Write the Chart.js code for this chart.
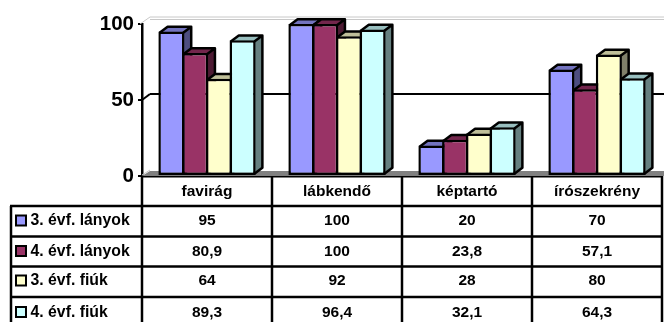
<!DOCTYPE html>
<html>
<head>
<meta charset="utf-8">
<script src="https://cdn.jsdelivr.net/npm/chart.js@4"></script>
<style>
  html, body { margin: 0; padding: 0; background: #fff; overflow: hidden; }
  canvas { display: block; }
</style>
</head>
<body>
<canvas id="chart" width="664" height="322"></canvas>
<script>
// Data
const categories = ['favirág', 'lábkendő', 'képtartó', 'írószekrény'];
const seriesNames = ['3. évf. lányok', '4. évf. lányok', '3. évf. fiúk', '4. évf. fiúk'];
const lanyok3 = [95, 100, 20, 70];
const lanyok4 = [80.9, 100, 23.8, 57.1];
const fiuk3 = [64, 92, 28, 80];
const fiuk4 = [89.3, 96.4, 32.1, 64.3];
const yTicks = [0, 50, 100];

// Front, top and side colours per series
const frontColors = ['#9999FF', '#993366', '#FFFFCC', '#CCFFFF'];
const topColors = ['#7373BF', '#73264C', '#BFBF99', '#99BFBF'];
const sideColors = ['#4D4D80', '#4D1A33', '#80806A', '#668080'];

const FONT = '"Liberation Sans", Arial, sans-serif';
const DEPTH_X = 8;
const DEPTH_Y = 6;
const STROKE = 2.5;

function line(ctx, x1, y1, x2, y2) {
    ctx.beginPath();
    ctx.moveTo(x1, y1);
    ctx.lineTo(x2, y2);
    ctx.stroke();
}

function poly(ctx, pts, fill) {
    ctx.beginPath();
    pts.forEach((p, i) => i ? ctx.lineTo(p[0], p[1]) : ctx.moveTo(p[0], p[1]));
    ctx.closePath();
    ctx.fillStyle = fill;
    ctx.fill();
}

// Back wall, floor and the top/side faces of the bars
const depthPlugin = {
    id: 'depth',
    beforeDatasetsDraw(chart) {
        const { ctx, chartArea, scales } = chart;
        const { left, bottom } = chartArea;
        const yMid = scales.y.getPixelForValue(50);
        const yTop = scales.y.getPixelForValue(100);
        ctx.save();

        // floor band
        poly(ctx, [[left, bottom], [left + DEPTH_X, bottom - 5], [664, bottom - 5], [664, bottom]], '#808080');

        ctx.strokeStyle = '#C8C8C8';
        ctx.lineWidth = 1;
        line(ctx, left - 2, yTop, left + DEPTH_X, yTop - 7);
        line(ctx, left + DEPTH_X, yTop - 7, 664, yTop - 7);
        line(ctx, left + DEPTH_X, yTop - 4.5, 664, yTop - 4.5);
        line(ctx, left, bottom - 1, left + DEPTH_X, bottom - DEPTH_Y);

        ctx.strokeStyle = '#000';
        ctx.lineWidth = 2;
        line(ctx, left, yMid, left + DEPTH_X, yMid - DEPTH_Y);
        line(ctx, left + DEPTH_X, yMid - DEPTH_Y, 664, yMid - DEPTH_Y);

        chart.data.labels.forEach((_, c) => {
            chart.data.datasets.forEach((ds, d) => {
                const bar = chart.getDatasetMeta(d).data[c];
                const inset = STROKE / 2;
                const hw = bar.width / 2 - inset;
                const x0 = bar.x - hw, x1 = bar.x + hw;
                const yt = bar.y + inset, yb = bar.base - inset;
                const top = [[x0, yt], [x0 + DEPTH_X, yt - DEPTH_Y], [x1 + DEPTH_X, yt - DEPTH_Y], [x1, yt]];
                const side = [[x1, yt], [x1 + DEPTH_X, yt - DEPTH_Y], [x1 + DEPTH_X, yb - DEPTH_Y], [x1, yb]];
                poly(ctx, side, sideColors[d]);
                poly(ctx, top, topColors[d]);
                ctx.strokeStyle = '#000';
                ctx.lineWidth = STROKE;
                ctx.lineJoin = 'round';
                ctx.beginPath();
                ctx.moveTo(x0, yt);
                ctx.lineTo(x0 + DEPTH_X, yt - DEPTH_Y);
                ctx.lineTo(x1 + DEPTH_X, yt - DEPTH_Y);
                ctx.lineTo(x1 + DEPTH_X, yb - DEPTH_Y);
                ctx.lineTo(x1, yb);
                ctx.moveTo(x1, yt);
                ctx.lineTo(x1 + DEPTH_X, yt - DEPTH_Y);
                ctx.stroke();
            });
        });
        ctx.restore();
    }
};

// Data table under the x axis, aligned to the category bands
const tablePlugin = {
    id: 'dataTable',
    afterDraw(chart) {
        const { ctx, chartArea, scales } = chart;
        const { left, right, bottom } = chartArea;
        const band = (right - left) / categories.length;
        const rowTops = [206, 236.5, 266.5, 297];
        const rowText = [221, 251.5, 281, 312.5];
        const tableLeft = 11;
        const canvasBottom = chart.height;

        ctx.save();
        ctx.strokeStyle = '#000';
        ctx.lineWidth = STROKE;

        for (let i = 0; i <= categories.length; i++) {
            const x = left + band * i;
            line(ctx, x, bottom, x, canvasBottom);
        }
        line(ctx, tableLeft, rowTops[0], tableLeft, canvasBottom);
        rowTops.forEach(y => line(ctx, tableLeft - 1, y, right + 1, y));

        ctx.textBaseline = 'middle';
        chart.data.datasets.forEach((ds, d) => {
            const y = rowText[d];
            ctx.fillStyle = frontColors[d];
            ctx.fillRect(16, y - 5.5, 10, 10);
            ctx.lineWidth = 2;
            ctx.strokeRect(16, y - 5.5, 10, 10);

            ctx.fillStyle = '#000';
            ctx.textAlign = 'left';
            ctx.font = `bold 15.8px ${FONT}`;
            ctx.fillText(seriesNames[d], 30.5, y);

            ctx.textAlign = 'center';
            ctx.font = `bold 15.5px ${FONT}`;
            ds.data.forEach((v, c) => {
                ctx.fillText(String(v).replace('.', ','), scales.x.getPixelForTick(c), y);
            });
        });
        ctx.restore();
    }
};

new Chart(document.getElementById('chart'), {
    type: 'bar',
    data: {
        labels: categories,
        datasets: [lanyok3, lanyok4, fiuk3, fiuk4].map((values, i) => ({
            label: seriesNames[i],
            data: values,
            backgroundColor: frontColors[i],
            borderColor: '#000',
            borderWidth: STROKE,
            borderSkipped: false,
            categoryPercentage: 0.73,
            barPercentage: 1.1
        }))
    },
    options: {
        responsive: false,
        animation: false,
        layout: { padding: { top: 24, right: 2, left: 0, bottom: 0 } },
        plugins: { legend: { display: false }, tooltip: { enabled: false } },
        scales: {
            x: {
                afterFit(scale) { scale.height = 146; },
                grid: { display: false, drawTicks: false, tickLength: 0 },
                border: { color: '#000', width: 2.5 },
                ticks: {
                    color: '#000',
                    padding: 6,
                    maxRotation: 0,
                    font: { family: FONT, weight: 'bold', size: 15.5 }
                }
            },
            y: {
                min: 0,
                max: 100,
                afterFit(scale) { scale.width = 142; },
                afterBuildTicks(scale) { scale.ticks = yTicks.map(value => ({ value })); },
                grid: { drawOnChartArea: false, tickLength: 4, color: '#000', lineWidth: 2 },
                border: { color: '#000', width: 2.5 },
                ticks: {
                    color: '#000',
                    padding: 4,
                    font: { family: FONT, weight: 'bold', size: 20.5 }
                }
            }
        }
    },
    plugins: [depthPlugin, tablePlugin]
});
</script>
</body>
</html>
